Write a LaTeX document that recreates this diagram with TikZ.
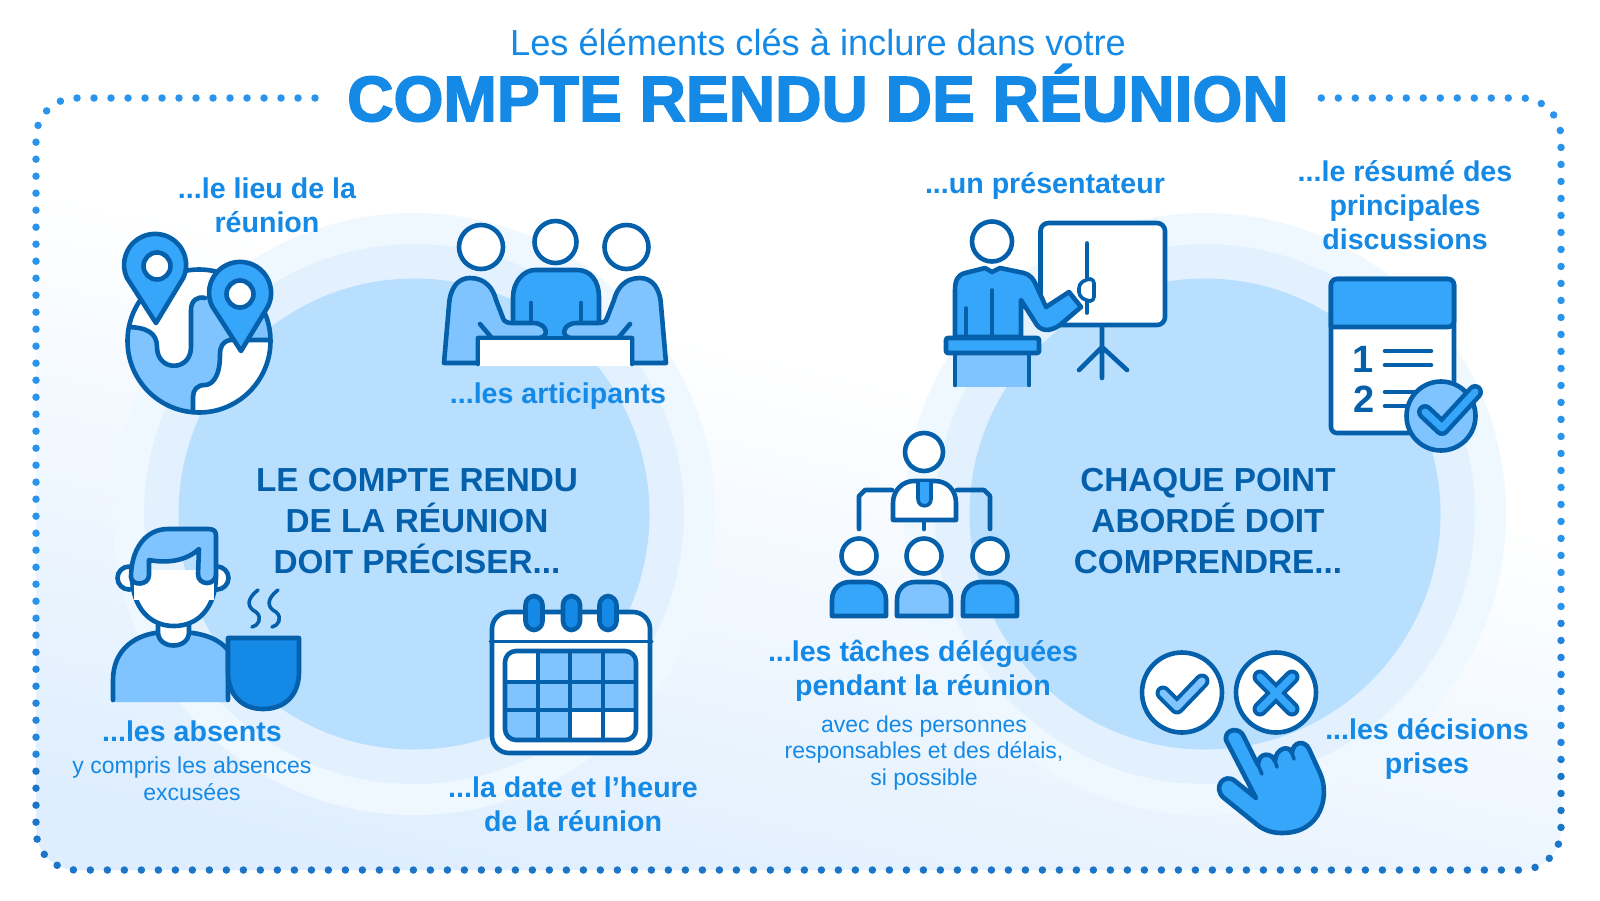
\documentclass[tikz,border=0pt]{standalone}
\usepackage{fontspec}
\setmainfont{Liberation Sans}
\newfontfamily\titlefont[FakeBold=2.4]{Liberation Sans Bold}
\usetikzlibrary{arrows,shapes}
\definecolor{inkblue}{HTML}{0560AB}
\definecolor{topicblue}{HTML}{1589E6}
\definecolor{midblue}{HTML}{36A6FB}
\definecolor{lightblue}{HTML}{7FC4FF}
\definecolor{ringa}{HTML}{B9DFFF}
\definecolor{ringb}{HTML}{E3F1FF}
\definecolor{ringc}{HTML}{F0F8FF}
\definecolor{paleblue}{HTML}{DFEEFE}
\definecolor{dotupper}{HTML}{2A94EC}
\definecolor{dotmiddle}{HTML}{2485DD}
\definecolor{dotlower}{HTML}{1C76C8}
\pgfdeclareverticalshading{backdropfade}{100bp}{color(0bp)=(paleblue); color(25bp)=(paleblue); color(59bp)=(white); color(100bp)=(white)}
\tikzstyle{icon}=[draw=inkblue,line width=4.6pt,line join=round,line cap=round]
\tikzstyle{topic}=[inner sep=0pt,align=center,text=topicblue,font=\bfseries\fontsize{28.6}{34}\selectfont]
\tikzstyle{note}=[inner sep=0pt,align=center,text=topicblue,font=\fontsize{23}{26.5}\selectfont]
\tikzstyle{heading}=[inner sep=0pt,align=center,text=inkblue,font=\bfseries\fontsize{33.3}{41}\selectfont]
\begin{document}
\begin{tikzpicture}[x=1pt,y=-1pt]
    \useasboundingbox (0,0) rectangle (1600,900);
    \fill[white] (0,0) rectangle (1600,900);

    % Draw the pale backdrop and the dotted frame
    \shade[shading=backdropfade,shading angle=-13] [rounded corners=0pt] (36,160) -- (1561,495) [rounded corners=40pt] -- (1561,870) -- (36,870) [rounded corners=0pt] -- cycle;
    \foreach \ytop/\ybot/\tint in {90/620/dotupper,620/760/dotmiddle,760/880/dotlower} {
        \begin{scope}
            \clip (0,\ytop) rectangle (1600,\ybot);
            \draw[draw=\tint,line width=7.5pt,line cap=round,dash pattern=on 0pt off 17pt,rounded corners=40pt] (315,98) -- (36,98) -- (36,870) -- (1561,870) -- (1561,98) -- (1314,98);
        \end{scope}
    }

    % Then the rings behind each half
    \foreach \cx in {414,1205} {
        \fill[ringc] (\cx,514) circle (301);
        \fill[ringb] (\cx,514) circle (270);
        \fill[ringa] (\cx,514) circle (235.5);
    }

    % All texts
    \node[inner sep=0pt,text=topicblue,font=\fontsize{36.2}{40}\selectfont] (subtitle) at (818,42) {Les éléments clés à inclure dans votre};
    \node[inner sep=0pt,text=topicblue,font=\titlefont\fontsize{64.2}{70}\selectfont] (title) at (818,93) {COMPTE RENDU DE RÉUNION};
    \node[heading] (leftheading) at (417,521) {LE COMPTE RENDU\\DE LA RÉUNION\\DOIT PRÉCISER...};
    \node[heading] (rightheading) at (1208,521) {CHAQUE POINT\\ABORDÉ DOIT\\COMPRENDRE...};
    \foreach \pos/\name/\txt in {{(267,205.5)/lieu/{...le lieu de la\\réunion}}, {(558,396)/articipants/{...les articipants}}, {(192,731)/absents/{...les absents}}, {(573,804)/date/{...la date et l’heure\\de la réunion}}, {(1045,186)/presentateur/{...un présentateur}}, {(1405,205)/resume/{...le résumé des\\principales\\discussions}}, {(923,671)/taches/{...les tâches déléguées\\pendant la réunion}}, {(1427,749)/decisions/{...les décisions\\prises}}}
        \node[topic] (\name) at \pos {\txt};
    \foreach \pos/\name/\txt in {{(192,779)/absentsnote/{y compris les absences\\excusées}}, {(924,753)/tachesnote/{avec des personnes\\responsables et des délais,\\si possible}}}
        \node[note] (\name) at \pos {\txt};

    % Globe with two pins
    \fill[white] (199,341) circle (71.5);
    \begin{scope}
        \clip (199,341) circle (71.5);
        \fill[lightblue] (126,327) .. controls (147,327) and (157,333) .. (157,347) .. controls (157,372) and (191,372) .. (191,347) -- (191,310) .. controls (191,300) and (198,296) .. (205,298) -- (240,300) -- (280,300) -- (280,340) -- (230,340) .. controls (222,342) and (220,347) .. (220,355) .. controls (220,380) and (210,385) .. (205,385) .. controls (197,385) and (193,390) .. (193,397) -- (193,420) -- (120,420) -- cycle;
        \draw[icon] (126,327) .. controls (147,327) and (157,333) .. (157,347) .. controls (157,372) and (191,372) .. (191,347) -- (191,310) .. controls (191,300) and (198,296) .. (205,298);
        \draw[icon] (280,340) -- (230,340) .. controls (222,342) and (220,347) .. (220,355) .. controls (220,380) and (210,385) .. (205,385) .. controls (197,385) and (193,390) .. (193,397) -- (193,420);
    \end{scope}
    \draw[icon] (199,341) circle (71.5);
    \foreach \cx/\cy/\hx in {155/265/157,240/293/240} {
        \draw[icon,fill=midblue] (\cx+1,\cy+58) -- (\cx-28,\cy+13) arc (155:385:31) -- cycle;
        \draw[icon,fill=white] (\hx,\cy+1) circle (13.5);
    }

    % Three people at a table
    \foreach \pos/\rad in {{(481,247)/22}, {(555.5,242)/21}, {(626.5,247)/22}}
        \draw[icon,fill=white] \pos circle (\rad);
    \fill[midblue] (513,338) -- (513,298) .. controls (513,280) and (525,270) .. (535,270) -- (577,270) .. controls (590,270) and (599,280) .. (599,298) -- (599,338) -- cycle;
    \draw[icon] (513,325) -- (513,298) .. controls (513,280) and (525,270) .. (535,270) -- (577,270) .. controls (590,270) and (599,280) .. (599,298) -- (599,325);
    \draw[icon] (531,303) -- (531,322) (581,303) -- (581,322);
    \foreach \mx/\sx in {0/1,1110/-1} {
        \begin{scope}[shift={(\mx,0)},xscale=\sx]
            \draw[icon,fill=lightblue] (444,363) -- (449,305) .. controls (450,288) and (458,278) .. (470,278) .. controls (485,278) and (493,288) .. (496,300) -- (503,318) .. controls (504,322) and (508,323) .. (512,323) -- (533,323) .. controls (548,323) and (550,338) .. (538,338) -- (478,338) -- (478,363) -- cycle;
            \draw[icon] (480,324) -- (491,337);
        \end{scope}
    }
    \fill[white] (478,338) rectangle (632,366);
    \draw[icon] (478,364) -- (478,338) -- (632,338) -- (632,364);

    % Absent person with a cup
    \foreach \cx in {129,217}
        \draw[icon,fill=white] (\cx,578) circle (11.5);
    \fill[lightblue] (113,702) -- (113,680) .. controls (113,650) and (135,633) .. (165,632) -- (182,632) .. controls (205,633) and (220,640) .. (228,650) -- (228,702) -- cycle;
    \draw[icon] (113,700) -- (113,680) .. controls (113,650) and (135,633) .. (165,632) -- (182,632) .. controls (205,633) and (220,640) .. (228,650) -- (228,700);
    \draw[icon,fill=white] (158,625) -- (158,632) .. controls (158,650) and (189,650) .. (189,632) -- (189,625);
    \draw[icon,fill=white] (132,575) .. controls (132,608) and (150,626) .. (174,626) .. controls (198,626) and (216,608) .. (216,575) -- cycle;
    \fill[white] (134,570) rectangle (214,600);
    \draw[icon,fill=lightblue] (131,577) .. controls (131,550) and (145,529) .. (168,529) -- (208,529) .. controls (214,529) and (216,531) .. (216,536) -- (216,574) .. controls (216,586) and (198,586) .. (198,574) -- (199,549) .. controls (185,562) and (165,563) .. (149,560) -- (149,575) .. controls (149,586) and (131,586) .. (131,577) -- cycle;
    \draw[icon,line width=3.6pt] (258,590) .. controls (245,600) and (248,608) .. (256,612) .. controls (263,618) and (258,626) .. (252,627);
    \draw[icon,line width=3.6pt] (278,590) .. controls (265,600) and (268,608) .. (276,612) .. controls (283,618) and (278,626) .. (272,627);
    \draw[icon,fill=topicblue] (228,638) -- (299,638) -- (299,672) .. controls (299,695) and (285,709) .. (263,709) .. controls (242,709) and (228,695) .. (228,672) -- cycle;

    % Calendar with rings and grid
    \draw[icon,fill=white,rounded corners=17pt] (492,612) rectangle (650,753);
    \draw[icon,line width=3pt] (490,641) -- (652,641);
    \foreach \cx in {534,571.5,608}
        \draw[icon,fill=topicblue,rounded corners=9pt] (\cx-8.5,596) rectangle (\cx+8.5,630);
    \fill[lightblue,rounded corners=11pt] (505,651) rectangle (636,740);
    \begin{scope}
        \clip[rounded corners=11pt] (505,651) rectangle (636,740);
        \fill[white] (505,651) rectangle (538,682);
        \fill[white] (570,710) rectangle (636,740);
    \end{scope}
    \foreach \lx in {538,570,603}
        \draw[draw=inkblue,line width=3.4pt] (\lx,651) -- (\lx,740);
    \foreach \ly in {682,710}
        \draw[draw=inkblue,line width=3.4pt] (505,\ly) -- (636,\ly);
    \draw[icon,rounded corners=11pt] (505,651) rectangle (636,740);

    % Presenter at a lectern and a board
    \draw[icon,fill=white] (992,241.5) circle (20);
    \draw[icon,fill=white,rounded corners=8pt] (1040.5,223) rectangle (1165,325);
    \draw[icon] (1102,327) -- (1102,378) (1102,347) -- (1079,370) (1102,347) -- (1127,370);
    \draw[icon,line width=3.6pt] (1087,243) -- (1087,313);
    \draw[icon,line width=3.6pt,fill=white,rounded corners=4pt] (1094,279) -- (1087,279) -- (1079,284) -- (1079,296) -- (1087,301) -- (1094,301) -- cycle;
    \draw[icon,fill=midblue] (955,337) -- (955,290) .. controls (955,280) and (958,275) .. (965,273) -- (985,268) -- (992,272) -- (1000,268) -- (1024,273) .. controls (1030,275) and (1033,278) .. (1036,285) -- (1046,307) -- (1069,292) -- (1081,307) -- (1060,325) .. controls (1050,332) and (1040,332) .. (1035,322) -- (1021,300) -- (1021,337) -- cycle;
    \draw[icon,line width=3.6pt] (992,290) -- (992,337) (966,308) -- (966,337);
    \fill[lightblue] (955,353) rectangle (1029,387);
    \draw[icon] (955,353) -- (955,385) (1029,353) -- (1029,385);
    \draw[icon,fill=midblue,rounded corners=2pt] (946,338) rectangle (1039,353);

    % Numbered list with a check badge
    \draw[icon,fill=white,rounded corners=6pt] (1331,279) rectangle (1454,433);
    \draw[icon,fill=midblue,rounded corners=6pt] (1331,327) -- (1331,279) -- (1454,279) -- (1454,327) [sharp corners] -- cycle;
    \node[inner sep=0pt,text=inkblue,font=\bfseries\fontsize{38}{40}\selectfont] (one) at (1363,359) {1};
    \node[inner sep=0pt,text=inkblue,font=\bfseries\fontsize{38}{40}\selectfont] (two) at (1364,399) {2};
    \foreach \ly in {351,365}
        \draw[icon] (1385,\ly) -- (1431,\ly);
    \foreach \ly in {392,406}
        \draw[icon] (1385,\ly) -- (1415,\ly);
    \draw[icon,fill=lightblue] (1441,416) circle (34.5);
    \draw[draw=inkblue,line width=16pt,line cap=round,line join=round] (1425,412) -- (1442,428) -- (1475,392);
    \draw[draw=midblue,line width=7pt,line cap=round,line join=round] (1425,412) -- (1442,428) -- (1475,392);

    % Org chart
    \draw[icon] (892,490) -- (865,490) -- (859,496) -- (859,529);
    \draw[icon] (957,490) -- (984,490) -- (990,496) -- (990,529);
    \draw[icon] (924,521) -- (924,529);
    \draw[icon,fill=white] (924,452) circle (19);
    \draw[icon,fill=white] (893,520) -- (893,503) .. controls (893,490) and (903,481) .. (914,481) -- (935,481) .. controls (947,481) and (956,490) .. (956,503) -- (956,520) -- cycle;
    \draw[icon,line width=3.6pt,fill=midblue] (918,482) -- (918,499) .. controls (918,508) and (931,508) .. (931,499) -- (931,482);
    \foreach \cx/\shade in {859/midblue,924/lightblue,990/midblue} {
        \draw[icon,fill=white] (\cx,556) circle (17.5);
        \draw[icon,fill=\shade] (\cx-27,616) -- (\cx-27,600) .. controls (\cx-27,588) and (\cx-18,582) .. (\cx-9,582) -- (\cx+9,582) .. controls (\cx+18,582) and (\cx+27,588) .. (\cx+27,600) -- (\cx+27,616) -- cycle;
    }

    % Check, cross and pointing hand
    \draw[icon,fill=white] (1182,692.5) circle (40);
    \draw[icon,fill=white] (1276,692.5) circle (40);
    \draw[draw=inkblue,line width=15pt,line cap=round,line join=round] (1163,693) -- (1177,707) -- (1202,681);
    \draw[draw=lightblue,line width=7pt,line cap=round,line join=round] (1163,693) -- (1177,707) -- (1202,681);
    \draw[draw=inkblue,line width=15pt,line cap=round] (1260,677) -- (1292,709) (1292,677) -- (1260,709);
    \draw[draw=midblue,line width=7pt,line cap=round] (1260,677) -- (1292,709) (1292,677) -- (1260,709);
    \draw[icon,fill=midblue] (1226,740) .. controls (1224,729) and (1240,726) .. (1244,737) -- (1258,765) .. controls (1258,752) and (1272,752) .. (1275,761) .. controls (1276,747) and (1290,745) .. (1292,753) .. controls (1293,741) and (1305,740) .. (1309,749) -- (1320,773) .. controls (1330,795) and (1322,833) .. (1282,833) .. controls (1270,833) and (1262,829) .. (1255,823) -- (1224,798) .. controls (1212,788) and (1224,772) .. (1235,781) -- (1256,798) -- cycle;
    \draw[icon,line width=3.6pt] (1258,765) -- (1262,774) (1275,761) -- (1277,767) (1292,753) -- (1294,759);
\end{tikzpicture}
\end{document}
